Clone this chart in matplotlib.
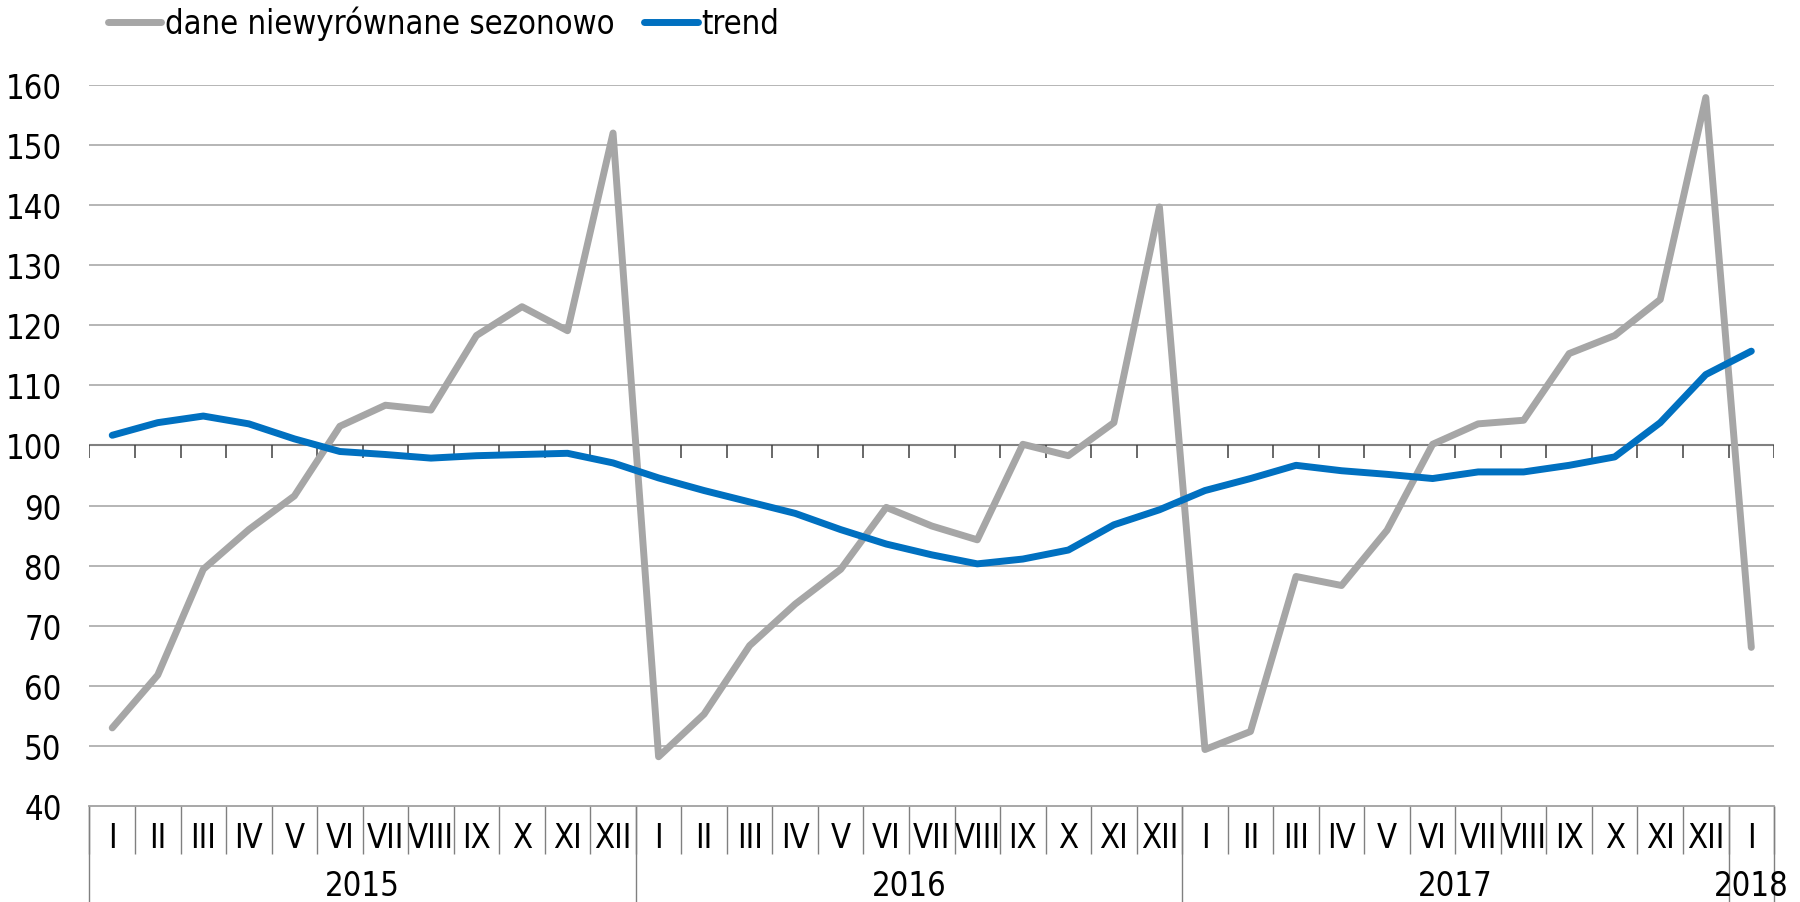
import numpy as np
import matplotlib.pyplot as plt
import matplotlib.transforms as mtransforms

# Dane (I 2015 - I 2018)
miesiace = ['I', 'II', 'III', 'IV', 'V', 'VI', 'VII', 'VIII', 'IX', 'X', 'XI', 'XII'] * 3 + ['I']
lata = ['2015', '2016', '2017', '2018']
niewyrownane = [53.0, 61.8, 79.4, 86.0, 91.6, 103.2, 106.7, 105.9, 118.3, 123.1, 119.1, 152.0,
                48.2, 55.3, 66.7, 73.6, 79.4, 89.7, 86.6, 84.3, 100.2, 98.3, 103.8, 139.7,
                49.4, 52.4, 78.2, 76.7, 85.9, 100.2, 103.6, 104.2, 115.3, 118.3, 124.3, 157.9,
                66.4]
trend = [101.7, 103.8, 104.9, 103.6, 101.1, 99.0, 98.5, 97.9, 98.3, 98.5, 98.7, 97.1,
         94.6, 92.5, 90.6, 88.7, 86.0, 83.6, 81.8, 80.3, 81.1, 82.6, 86.8, 89.3,
         92.5, 94.5, 96.7, 95.8, 95.2, 94.5, 95.6, 95.6, 96.7, 98.1, 103.8, 111.8,
         115.7]

plt.rcParams['font.family'] = ['DejaVu Sans']
plt.rcParams['font.stretch'] = 'condensed'
rozmiar = 23.5

fig = plt.figure(figsize=(18, 9.03), dpi=100)
ax = fig.add_axes([0.0497, 0.1063, 0.9359, 0.7985])

x = np.arange(len(miesiace))
ax.plot(x, niewyrownane, color='#a6a6a6', lw=5, solid_joinstyle='round',
        solid_capstyle='round', label='dane niewyrównane sezonowo', zorder=3)
ax.plot(x, trend, color='#0070c0', lw=5, solid_joinstyle='round',
        solid_capstyle='round', label='trend', zorder=4)

ax.set_xlim(-0.5, len(miesiace) - 0.5)
ax.set_ylim(40, 160)
ax.set_yticks(np.arange(40, 161, 10))
ax.tick_params(axis='y', length=0, pad=20, labelsize=rozmiar)
ax.set_xticks([])

# siatka pozioma
for v in range(50, 161, 10):
    if v == 100:
        continue
    ax.axhline(v, color='#b0b0b0', lw=1.3, zorder=1)
ax.axhline(100, color='#808080', lw=1.5, zorder=2)
granice = np.arange(-0.5, len(miesiace), 1.0)
ax.vlines(granice, 97.9, 100, color='#404040', lw=1.1, zorder=2)

for s in ['top', 'right', 'left']:
    ax.spines[s].set_visible(False)
ax.spines['bottom'].set_color('#a0a0a0')
ax.spines['bottom'].set_linewidth(1.3)

# oś kategorii: miesiące i lata
tr = mtransforms.blended_transform_factory(ax.transData, ax.transAxes)
for i, m in enumerate(miesiace):
    ax.text(i, -0.043, m, transform=tr, ha='center', va='center', fontsize=rozmiar)
ax.vlines(granice, -0.067, 0, transform=tr, color='#808080', lw=1.0, clip_on=False)
granice_lat = [-0.5, 11.5, 23.5, 35.5, 36.5]
ax.vlines(granice_lat, -0.135, 0, transform=tr, color='#808080', lw=1.0, clip_on=False)
srodki_lat = [5.5, 17.5, 29.5, 36]
for s, r in zip(srodki_lat, lata):
    ax.text(s, -0.110, r, transform=tr, ha='center', va='center', fontsize=rozmiar)

ax.legend(loc='upper left', bbox_to_anchor=(0.003, 1.128), ncol=2, frameon=False,
          fontsize=rozmiar, handlelength=1.65, handletextpad=0.1, columnspacing=0.9,
          borderaxespad=0)

fig.savefig('out.png', dpi=100)
